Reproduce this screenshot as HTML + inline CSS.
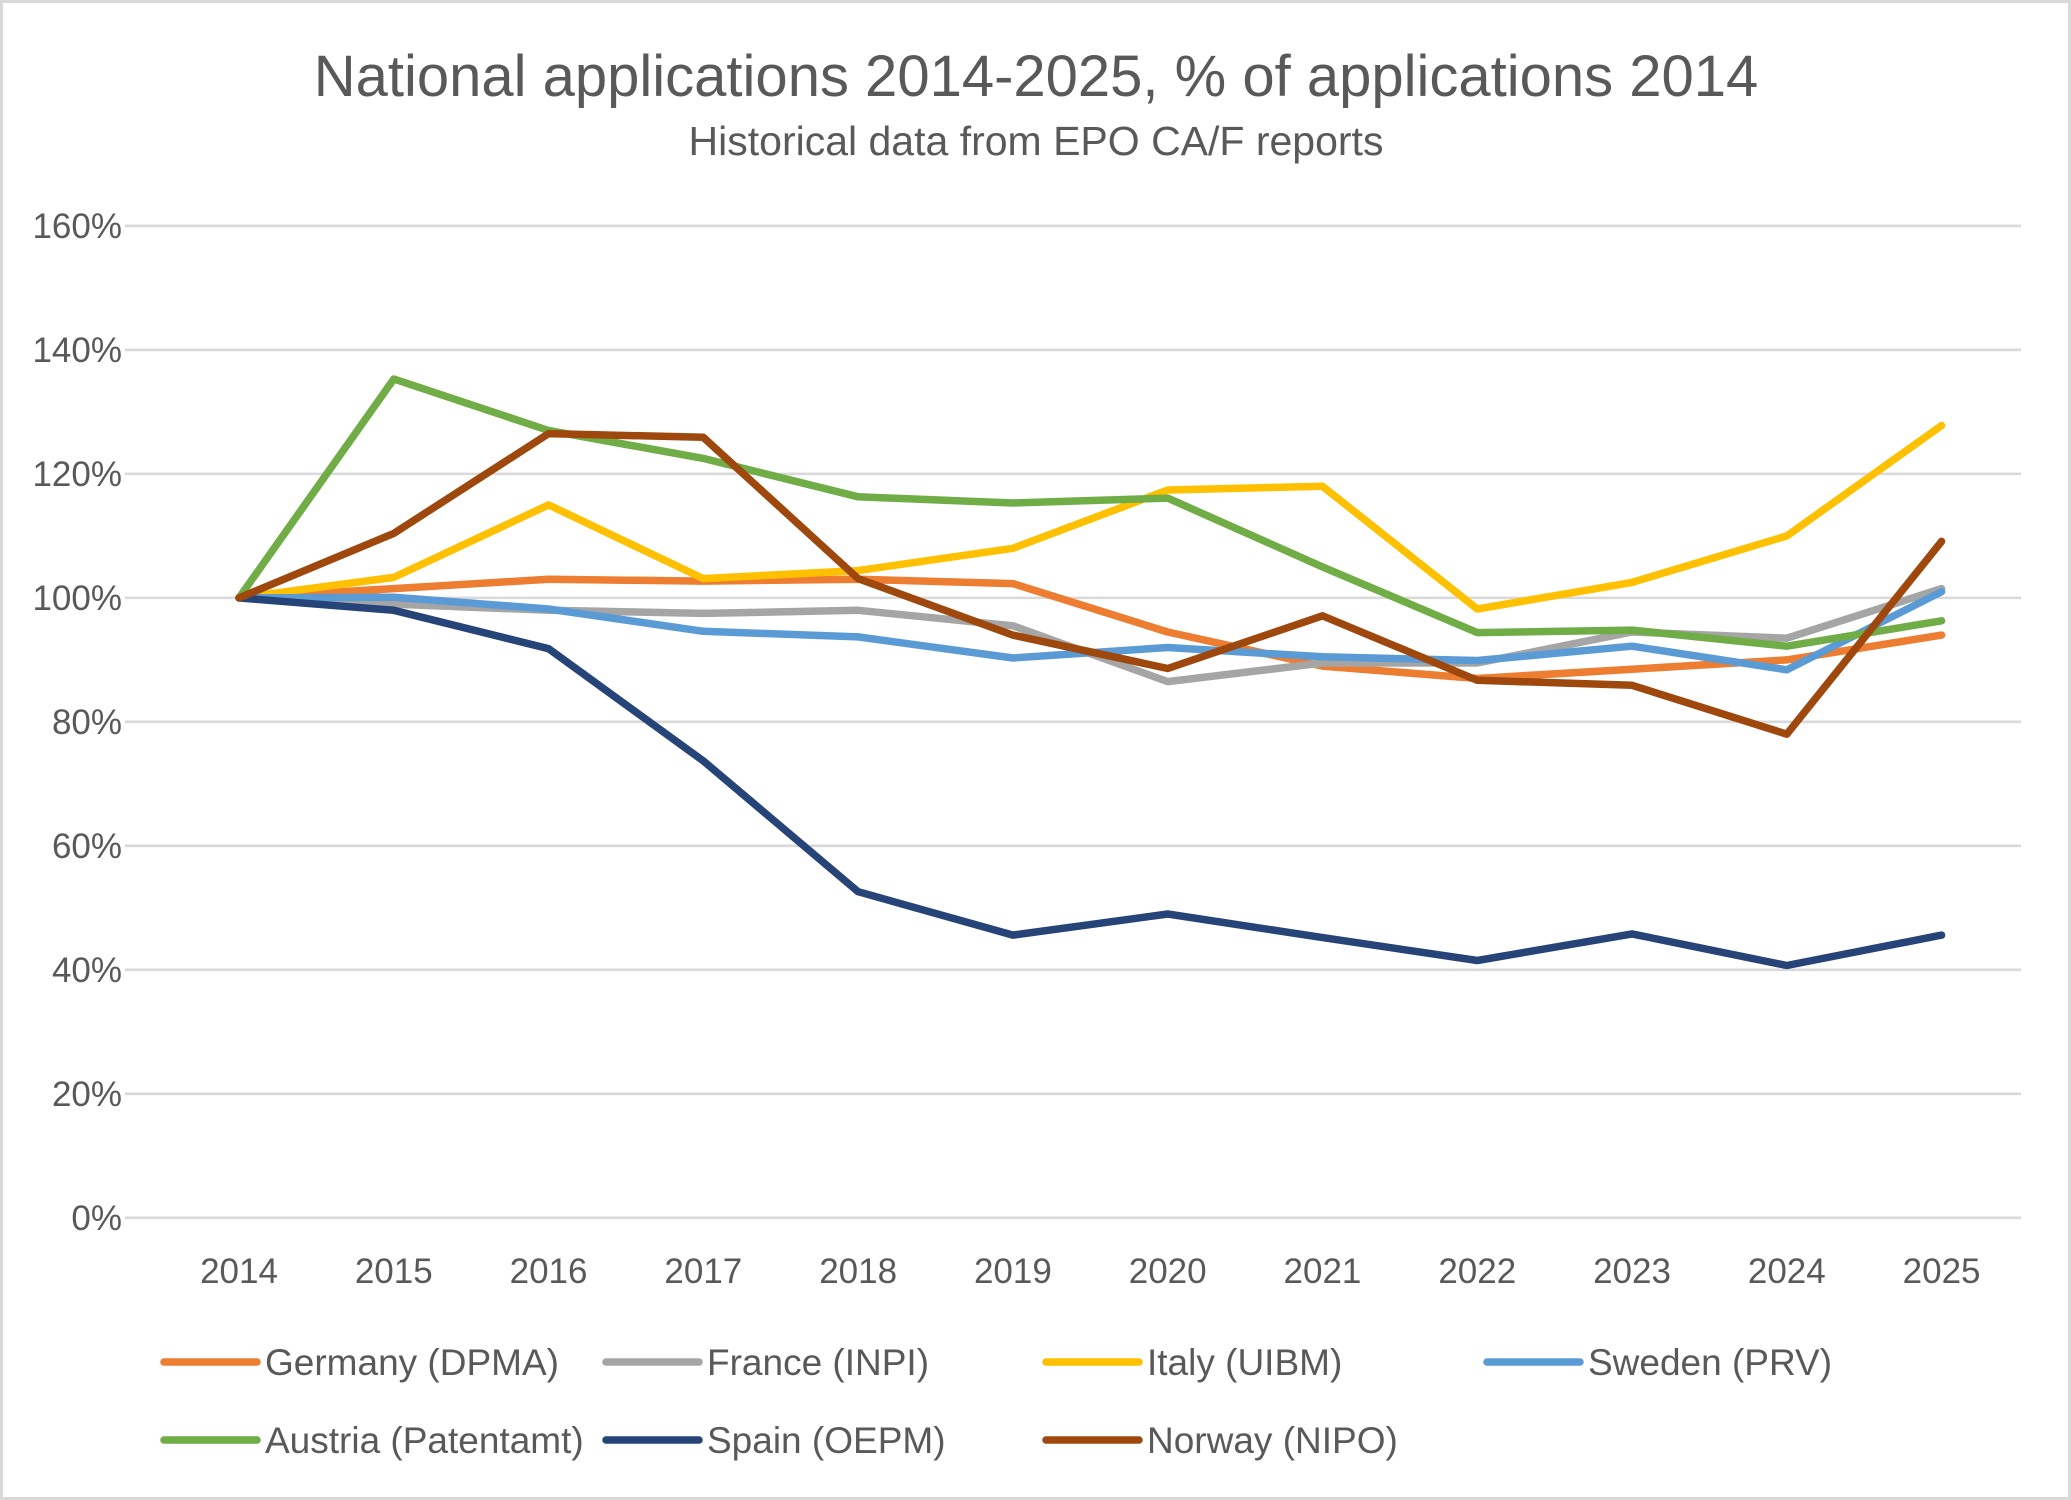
<!DOCTYPE html>
<html><head><meta charset="utf-8"><style>
html,body{margin:0;padding:0;background:#fff;}
svg{display:block;font-family:"Liberation Sans",sans-serif;}
</style></head><body>
<svg id="chart" width="2071" height="1500" viewBox="0 0 2071 1500">
<rect x="1.5" y="1.5" width="2068" height="1497" fill="#fff" stroke="#d9d9d9" stroke-width="3"/>
<text x="1036" y="96" text-anchor="middle" font-size="58" fill="#595959">National applications 2014-2025, % of applications 2014</text>
<text x="1036" y="155" text-anchor="middle" font-size="41" fill="#595959">Historical data from EPO CA/F reports</text>
<g id="grid"></g><g id="xlab"></g><g id="series"></g><g id="legend"></g>
</svg>
<script>
const years = ["2014","2015","2016","2017","2018","2019","2020","2021","2022","2023","2024","2025"];
const yTicks = [0,20,40,60,80,100,120,140,160];
const seriesNames = ["Germany (DPMA)","France (INPI)","Italy (UIBM)","Sweden (PRV)","Austria (Patentamt)","Spain (OEPM)","Norway (NIPO)"];
const seriesColors = ["#ed7d31","#a5a5a5","#ffc000","#5b9bd5","#70ad47","#264478","#9e480e"];
const germany = [100,101.5,103,102.7,103,102.3,94.5,89,87,88.5,90,94];
const france = [100,99,98,97.5,98,95.5,86.5,89.5,89.5,94.5,93.5,101.5];
const italy = [100,103.3,115,103.1,104.4,108,117.4,118,98.2,102.5,110,127.8];
const sweden = [100,100.1,98.2,94.6,93.7,90.3,92,90.5,89.9,92.2,88.4,101];
const austria = [100,135.3,127,122.5,116.3,115.3,116.1,105,94.4,94.8,92.2,96.3];
const spain = [100,98,91.8,73.7,52.6,45.6,49,45.2,41.5,45.8,40.7,45.6];
const norway = [100,110.4,126.5,125.9,103.1,94,88.6,97.1,86.7,85.9,78,109.1];
const allSeries = [germany,france,italy,sweden,austria,spain,norway];

const NS="http://www.w3.org/2000/svg";
const X0=239,X1=1941.6,Y0=1217.8,Y1=225.9;
function xScale(i){return X0+(X1-X0)*i/(years.length-1);}
function yScale(v){return Y0-(Y0-Y1)*v/160;}
function mk(tag,attrs,parent){const e=document.createElementNS(NS,tag);for(const k in attrs)e.setAttribute(k,attrs[k]);parent.appendChild(e);return e;}
const grid=document.getElementById('grid');
yTicks.forEach(t=>{
  const l=mk('line',{x1:125,x2:2021,y1:yScale(t),y2:yScale(t),stroke:'#d9d9d9','stroke-width':2.6},grid);
  
  
  const tx=mk('text',{x:122,y:yScale(t)+12,'text-anchor':'end','font-size':35,fill:'#595959'},grid);
  tx.textContent=t+'%';
  
  
});
const xl=document.getElementById('xlab');
years.forEach((y,i)=>{
  const tx=mk('text',{x:xScale(i),y:1283,'text-anchor':'middle','font-size':35,fill:'#595959'},xl);
  tx.textContent=y;
  
  
});
const sg=document.getElementById('series');
allSeries.forEach((s,k)=>{
  const pts=s.map((v,i)=>xScale(i).toFixed(1)+','+yScale(v).toFixed(1)).join(' ');
  const p=mk('polyline',{points:pts,fill:'none',stroke:seriesColors[k],'stroke-width':7.5,'stroke-linejoin':'round','stroke-linecap':'round'},sg);
  
  
});
const lg=document.getElementById('legend');
const lx=[164,606,1046,1487];
seriesNames.forEach((n,k)=>{
  const row=Math.floor(k/4),col=k%4;
  const y=row?1440:1362;
  const g=mk('g',{},lg);
  
  
  mk('line',{x1:lx[col],x2:lx[col]+93,y1:y,y2:y,stroke:seriesColors[k],'stroke-width':7.5,'stroke-linecap':'round'},g);
  const t=mk('text',{x:lx[col]+101,y:y+13,'font-size':37,fill:'#595959'},g);
  t.textContent=n;
});
</script>
</body></html>
